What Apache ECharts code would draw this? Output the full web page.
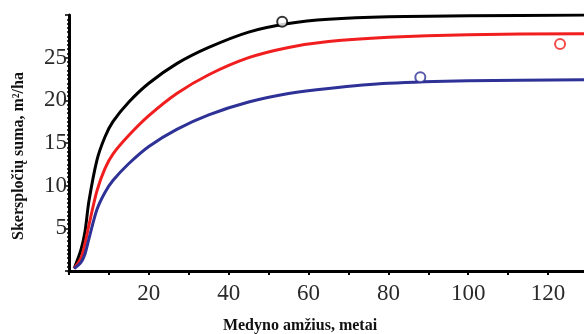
<!DOCTYPE html>
<html>
<head>
<meta charset="utf-8">
<script src="https://cdn.jsdelivr.net/npm/echarts@6/dist/echarts.min.js"></script>
<style>
  html, body { margin: 0; padding: 0; background: #fff; }
  #chart { width: 584px; height: 334px; }
</style>
</head>
<body>
<div id="chart"></div>
<script>
// stand age (years) and basal area (m2/ha)
const ages = [1.3, 3, 4, 5, 7, 9, 11, 15, 20, 27, 35, 45, 55, 65, 80, 100, 130]
const blackVals = [0.3, 2.5, 4.6, 8.2, 13.0, 15.7, 17.5, 19.8, 22.0, 24.3, 26.2, 28.0, 29.0, 29.5, 29.8, 29.9, 30.0]
const redVals = [0.3, 1.5, 3.2, 5.4, 9.4, 12.0, 13.7, 15.9, 18.2, 20.8, 23.0, 25.0, 26.2, 26.9, 27.4, 27.7, 27.8]
const blueVals = [0.3, 1.0, 2.0, 3.8, 7.2, 9.2, 10.6, 12.6, 14.6, 16.6, 18.3, 19.8, 20.8, 21.4, 22.0, 22.3, 22.4]

// observed points
const blackPoint = [53.4, 29.2]
const redPoint = [123, 26.6]
const bluePoint = [88, 22.7]

const xTicks = [20, 40, 60, 80, 100, 120]
const yTicks = [5, 10, 15, 20, 25]

const serif = '"Liberation Serif", "DejaVu Serif", serif'
const colors = { black: '#000000', red: '#f01e1e', blue: '#2e3196' }

const pairs = (vals) => ages.map((a, i) => [a, vals[i]])

const curve = (vals, color) => ({
  type: 'line',
  data: pairs(vals),
  smooth: 0.3,
  showSymbol: false,
  lineStyle: { color, width: 3 },
  z: 2
})

const point = (p, color) => ({
  type: 'scatter',
  data: [p],
  symbol: 'circle',
  symbolSize: 10,
  itemStyle: { color: '#fff', borderColor: color, borderWidth: 2 },
  z: 5
})

const chart = echarts.init(document.getElementById('chart'))
chart.setOption({
  animation: false,
  grid: { left: 69, right: 0, top: 15, bottom: 63 },
  xAxis: {
    type: 'value',
    min: 0,
    max: 129,
    interval: 10,
    splitLine: { show: false },
    axisLine: { lineStyle: { color: '#000', width: 3 } },
    axisTick: { length: 4, lineStyle: { color: '#000', width: 2 } },
    axisLabel: {
      margin: 11,
      showMaxLabel: false,
      fontFamily: serif,
      fontSize: 23,
      color: '#2a2a2a',
      formatter: (v) => (xTicks.includes(v) ? String(v) : '')
    }
  },
  yAxis: {
    type: 'value',
    min: 0,
    max: 30,
    interval: 5,
    splitLine: { show: false },
    axisLine: { lineStyle: { color: '#000', width: 3 } },
    axisTick: { length: 4, lineStyle: { color: '#000', width: 1.5 } },
    minorTick: { show: true, splitNumber: 10, length: 2, lineStyle: { color: '#000', width: 1.5 } },
    axisLabel: {
      margin: 2,
      fontFamily: serif,
      fontSize: 23,
      color: '#2a2a2a',
      formatter: (v) => (yTicks.includes(v) ? String(v) : '')
    }
  },
  graphic: [
    {
      type: 'text',
      x: 300,
      y: 326,
      style: {
        text: 'Medyno amžius, metai',
        font: 'bold 16px ' + serif,
        fill: '#111',
        align: 'center',
        verticalAlign: 'middle'
      }
    },
    {
      type: 'text',
      x: 19,
      y: 156,
      rotation: Math.PI / 2,
      style: {
        text: 'Skerspločių suma, m²/ha',
        font: 'bold 16px ' + serif,
        fill: '#111',
        align: 'center',
        verticalAlign: 'middle'
      }
    }
  ],
  series: [
    curve(blackVals, colors.black),
    curve(redVals, colors.red),
    curve(blueVals, colors.blue),
    point(blackPoint, colors.black),
    point(redPoint, colors.red),
    point(bluePoint, colors.blue)
  ]
})
</script>
</body>
</html>
